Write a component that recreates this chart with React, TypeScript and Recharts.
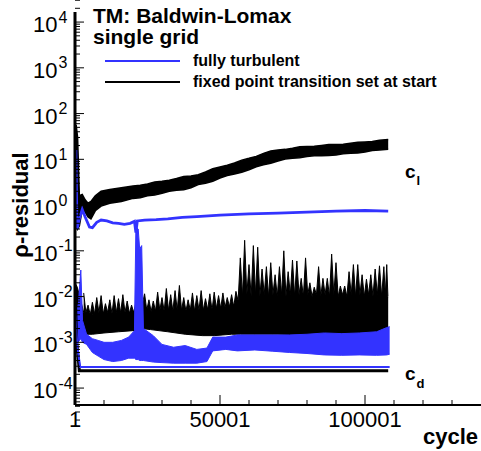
import React from 'react';
import { ComposedChart, Line, Area, XAxis, YAxis } from 'recharts';

const FONT = '"Liberation Sans", Arial, Helvetica, sans-serif';
const BLUE = '#3333ff';
const BLACK = '#000000';

// ---- axis ticks ----
const xMajorTicks = [1, 50001, 100001];
const xTicks = [1, 10001, 20001, 30001, 40001, 50001, 60001, 70001, 80001, 90001, 100001, 110001, 120001, 130001];
const yMajorTicks = [1e-4, 1e-3, 1e-2, 1e-1, 1, 10, 100, 1000, 10000];
const yMinorMultipliers = [2, 3, 4, 5, 6, 7, 8, 9];
const yTicks: number[] = [];
[1e-5, ...yMajorTicks].forEach((m) => {
  if (m >= 1e-4) yTicks.push(m);
  yMinorMultipliers.forEach((k) => yTicks.push(k * m));
});
const yDomain = [Math.pow(10, -4.37), Math.pow(10, 4.22)];

// ---- fixed point transition: c_l band ----
const blackClCycles = [1, 400, 900, 1500, 2500, 3500, 4500, 5500, 7000, 9000, 12000, 16000, 20000, 22500, 25000, 27500, 30000, 32500, 35000, 37500, 40000, 42500, 45000, 47500, 50000, 52500, 55000, 57500, 60000, 62500, 65000, 67500, 70000, 72500, 75000, 77500, 80000, 82500, 85000, 87500, 90000, 92500, 95000, 97500, 100000, 102500, 105000, 108000];
const blackClLow = [0.5, 0.5, 0.3, 0.35, 0.8, 0.7, 0.55, 0.5, 0.75, 0.95, 1.1, 1.2, 1.4, 1.45, 1.6, 1.65, 1.8, 2.0, 2.1, 2.15, 2.4, 2.8, 3.0, 3.3, 3.9, 4.4, 4.8, 5.2, 5.9, 6.9, 7.6, 8.2, 9.2, 10.2, 10.5, 10.8, 11.5, 12, 12, 12.1, 12.5, 13.2, 13.5, 13.8, 14.5, 15.5, 16, 16.5];
const blackClHigh = [1, 56, 30, 1.6, 1.7, 1.3, 1.1, 1.2, 1.6, 2.0, 2.2, 2.4, 2.6, 2.7, 2.9, 3.2, 3.3, 3.5, 3.8, 4.2, 4.3, 4.6, 5.3, 6.2, 6.8, 7.4, 8.3, 9.6, 10.5, 11.6, 13.5, 15.2, 16, 16.5, 17.5, 18.8, 19, 19.2, 20, 21, 21, 21.3, 22.5, 23.6, 24, 24.5, 26, 27];

// ---- fully turbulent: c_l line ----
const blueClCycles = [1, 300, 700, 1500, 2500, 3500, 5000, 6000, 7500, 9000, 11000, 13000, 15000, 17000, 19000, 20500, 21000, 21500, 24000, 28000, 32000, 37000, 42000, 50000, 60000, 70000, 80000, 90000, 100000, 108000];
const blueClValues = [0.4, 16, 0.3, 0.5, 0.8, 0.55, 0.33, 0.32, 0.42, 0.47, 0.45, 0.41, 0.40, 0.38, 0.40, 0.44, 0.25, 0.45, 0.47, 0.48, 0.50, 0.54, 0.56, 0.60, 0.64, 0.67, 0.70, 0.74, 0.76, 0.74];

// ---- fully turbulent: residual band ----
const blueBandCycles = [1, 1000, 2000, 2600, 4000, 6000, 8000, 10000, 13000, 16000, 18500, 20500, 21000, 21800, 22300, 23000, 23600, 27000, 30000, 34000, 38000, 42000, 45500, 47500, 52000, 56000, 62000, 68000, 74000, 80000, 86000, 92000, 98000, 104000, 107500, 108500];
const blueBandLow = [3e-3, 1e-3, 1.2e-3, 1.0e-3, 9e-4, 6e-4, 5e-4, 4.2e-4, 3.8e-4, 4.0e-4, 4.5e-4, 4.5e-4, 4.2e-4, 4.2e-4, 4.0e-4, 4.0e-4, 4.0e-4, 3.7e-4, 3.6e-4, 3.5e-4, 3.5e-4, 3.5e-4, 3.8e-4, 6.5e-4, 7.0e-4, 6.5e-4, 6.8e-4, 6.4e-4, 6.0e-4, 5.7e-4, 5.3e-4, 5.2e-4, 5.3e-4, 5.2e-4, 5.3e-4, 5.5e-4];
const blueBandHigh = [1e-2, 5e-3, 3.8e-2, 3e-3, 1.5e-3, 1.2e-3, 1.1e-3, 1.0e-3, 1.0e-3, 1.1e-3, 1.3e-3, 1.8e-3, 0.33, 0.3, 0.11, 0.13, 2.0e-3, 1.4e-3, 9e-4, 7.8e-4, 8.5e-4, 7e-4, 7.5e-4, 1.3e-3, 1.3e-3, 1.45e-3, 1.45e-3, 1.45e-3, 1.45e-3, 1.5e-3, 1.6e-3, 1.55e-3, 1.6e-3, 1.7e-3, 2.1e-3, 2.2e-3];

// ---- fixed point transition: residual base band ----
const blackBaseCycles = [1, 800, 2000, 3000, 6000, 10000, 15000, 20000, 23000, 26000, 32000, 38000, 44000, 48000, 54000, 57000, 70000, 90000, 108000];
const blackBaseLow = [5e-3, 2e-3, 1.6e-3, 1.5e-3, 1.5e-3, 1.6e-3, 1.7e-3, 1.8e-3, 2.0e-3, 1.9e-3, 1.7e-3, 1.5e-3, 1.4e-3, 1.4e-3, 1.5e-3, 1.5e-3, 1.5e-3, 1.4e-3, 1.4e-3];
const blackBaseHigh = [2e-2, 1.6e-2, 8e-3, 4.5e-3, 4.0e-3, 4.2e-3, 4.2e-3, 4.5e-3, 7.5e-3, 4.5e-3, 5e-3, 5e-3, 5e-3, 5.5e-3, 6e-3, 9e-3, 9.5e-3, 9.5e-3, 9.5e-3];

// ---- fixed point transition: residual spikes (peak / trough pairs) ----
const blackSpikeFloor = 4e-3;
const blackSpikeCycles = [3000, 3750, 4500, 5250, 6000, 6750, 7500, 8250, 9000, 9750, 10500, 11250, 12000, 12750, 13500, 14250, 15000, 15750, 16500, 17250, 18000, 18750, 19500, 20250, 21000, 21750, 22500, 23250, 24000, 24750, 25500, 26250, 27000, 27750, 28500, 29250, 30000, 30750, 31500, 32250, 33000, 33750, 34500, 35250, 36000, 36750, 37500, 38250, 39000, 39750, 40500, 41250, 42000, 42750, 43500, 44250, 45000, 45750, 46500, 47250, 48000, 48750, 49500, 50250, 51000, 51750, 52500, 53250, 54000, 54750, 55500, 56250, 57000, 57750, 58500, 59250, 60000, 60750, 61500, 62250, 63000, 63750, 64500, 65250, 66000, 66750, 67500, 68250, 69000, 69750, 70500, 71250, 72000, 72750, 73500, 74250, 75000, 75750, 76500, 77250, 78000, 78750, 79500, 80250, 81000, 81750, 82500, 83250, 84000, 84750, 85500, 86250, 87000, 87750, 88500, 89250, 90000, 90750, 91500, 92250, 93000, 93750, 94500, 95250, 96000, 96750, 97500, 98250, 99000, 99750, 100500, 101250, 102000, 102750, 103500, 104250, 105000, 105750, 106500, 107000, 107500, 107900];
const blackSpikeValues = [
  0.012, 0.0045, 0.0065, 0.004, 0.0075, 0.0042, 0.0095, 0.0045, 0.0105, 0.0042,
  0.007, 0.0045, 0.0085, 0.0042, 0.0105, 0.0045, 0.009, 0.0044, 0.011, 0.0045,
  0.008, 0.0043, 0.0065, 0.0045, 0.0075, 0.005, 0.011, 0.007, 0.0115, 0.005,
  0.0085, 0.0047, 0.008, 0.0048, 0.0125, 0.005, 0.0095, 0.0048, 0.015, 0.005,
  0.011, 0.0048, 0.0135, 0.005, 0.0175, 0.005, 0.0095, 0.0048, 0.0085, 0.005,
  0.012, 0.0048, 0.0105, 0.005, 0.0135, 0.005, 0.009, 0.0052, 0.0115, 0.005,
  0.0125, 0.0055, 0.0105, 0.0055, 0.012, 0.0058, 0.0095, 0.006, 0.011, 0.006,
  0.013, 0.008, 0.07, 0.01, 0.17, 0.011, 0.05, 0.01, 0.13, 0.011,
  0.12, 0.01, 0.04, 0.011, 0.045, 0.01, 0.055, 0.011, 0.03, 0.01,
  0.045, 0.011, 0.1, 0.01, 0.035, 0.011, 0.063, 0.01, 0.06, 0.011,
  0.025, 0.01, 0.07, 0.011, 0.02, 0.01, 0.016, 0.011, 0.045, 0.01,
  0.025, 0.011, 0.025, 0.01, 0.085, 0.011, 0.055, 0.01, 0.017, 0.011,
  0.017, 0.01, 0.035, 0.011, 0.05, 0.01, 0.05, 0.011, 0.03, 0.01,
  0.024, 0.011, 0.03, 0.01, 0.04, 0.011, 0.047, 0.01, 0.045, 0.011,
  0.05, 0.01,
];

// ---- flat c_d lines ----
const blackFlatCycles = [1, 600, 1500, 20000, 50000, 80000, 108000];
const blackFlatValues = [1.6e-2, 1e-3, 2.4e-4, 2.4e-4, 2.4e-4, 2.4e-4, 2.4e-4];
const blueFlatCycles = [1, 800, 1800, 30000, 70000, 108500];
const blueFlatValues = [5e-3, 8e-4, 2.9e-4, 2.9e-4, 2.9e-4, 2.9e-4];

const rangeData = (c: number[], lo: number[], hi: number[]) => c.map((cycle, i) => ({ cycle, range: [lo[i], hi[i]] }));
const lineData = (c: number[], v: number[]) => c.map((cycle, i) => ({ cycle, value: v[i] }));

const blackClData = rangeData(blackClCycles, blackClLow, blackClHigh);
const blueClData = lineData(blueClCycles, blueClValues);
const blueBandData = rangeData(blueBandCycles, blueBandLow, blueBandHigh);
const blackBaseData = rangeData(blackBaseCycles, blackBaseLow, blackBaseHigh);
const blackSpikeData = blackSpikeCycles.map((cycle, i) => ({ cycle, range: [blackSpikeFloor, blackSpikeValues[i]] }));
const blackFlatData = lineData(blackFlatCycles, blackFlatValues);
const blueFlatData = lineData(blueFlatCycles, blueFlatValues);

const YTick = (props: any) => {
  const { x, y, payload } = props;
  const v = payload.value as number;
  const lg = Math.log10(v);
  const exp = Math.round(lg);
  const isMajor = Math.abs(lg - exp) < 1e-6;
  return (
    <g>
      <line x1={x} x2={x + (isMajor ? 9 : 5)} y1={y} y2={y} stroke={BLACK} strokeWidth={1} />
      {isMajor && (
        <text x={x - 42} y={y + 10} fontSize={22} fontFamily={FONT} fill={BLACK}>
          10<tspan dx={1} dy={-9.5} fontSize={16}>{exp}</tspan>
        </text>
      )}
    </g>
  );
};

const XTick = (props: any) => {
  const { x, y, payload } = props;
  const v = payload.value as number;
  const isMajor = xMajorTicks.includes(v);
  return (
    <g>
      <line x1={x} x2={x} y1={y} y2={y - (isMajor ? 10 : 5)} stroke={BLACK} strokeWidth={1} />
      {isMajor && (
        <text x={x} y={y + 22} textAnchor="middle" fontSize={22} fontFamily={FONT} fill={BLACK}>
          {v}
        </text>
      )}
    </g>
  );
};

export default function App() {
  return (
    <div style={{ position: 'absolute', left: 0, top: 0, width: 481, height: 451, background: '#fff' }}>
      <ComposedChart width={481} height={451} margin={{ top: 12, right: 0, bottom: 0, left: 0 }}>
        <XAxis
          type="number"
          dataKey="cycle"
          domain={[1, 140001]}
          allowDataOverflow
          ticks={xTicks}
          interval={0}
          height={46}
          tickSize={0}
          tickMargin={0}
          tickLine={false}
          tick={<XTick />}
          axisLine={{ stroke: BLACK, strokeWidth: 2 }}
        />
        <YAxis
          type="number"
          scale="log"
          domain={yDomain}
          allowDataOverflow
          ticks={yTicks}
          interval={0}
          width={75}
          tickSize={0}
          tickMargin={0}
          tickLine={false}
          tick={<YTick />}
          axisLine={{ stroke: BLACK, strokeWidth: 3 }}
        />
        <Area data={blackClData} dataKey="range" type="linear" stroke={BLACK} strokeWidth={1.5} fill={BLACK} fillOpacity={1} isAnimationActive={false} dot={false} activeDot={false} />
        <Line data={blueClData} dataKey="value" type="linear" stroke={BLUE} strokeWidth={2.8} dot={false} activeDot={false} isAnimationActive={false} />
        <Area data={blackBaseData} dataKey="range" type="linear" stroke={BLACK} strokeWidth={1} fill={BLACK} fillOpacity={1} isAnimationActive={false} dot={false} activeDot={false} />
        <Area data={blackSpikeData} dataKey="range" type="linear" stroke={BLACK} strokeWidth={1} fill={BLACK} fillOpacity={1} dot={false} activeDot={false} isAnimationActive={false} />
        <Area data={blueBandData} dataKey="range" type="linear" stroke={BLUE} strokeWidth={1} fill={BLUE} fillOpacity={1} isAnimationActive={false} dot={false} activeDot={false} />
        <Line data={blackFlatData} dataKey="value" type="linear" stroke={BLACK} strokeWidth={3} dot={false} activeDot={false} isAnimationActive={false} />
        <Line data={blueFlatData} dataKey="value" type="linear" stroke={BLUE} strokeWidth={2} dot={false} activeDot={false} isAnimationActive={false} />
      </ComposedChart>
      <svg width={481} height={451} style={{ position: 'absolute', left: 0, top: 0, pointerEvents: 'none' }}>
        <g fontFamily={FONT} fill={BLACK}>
          <text x={93} y={23} fontSize={21} fontWeight="bold">TM: Baldwin-Lomax</text>
          <text x={93} y={44} fontSize={21} fontWeight="bold">single grid</text>
          <line x1={105} x2={180} y1={61} y2={61} stroke={BLUE} strokeWidth={2} />
          <text x={193} y={66} fontSize={16} fontWeight="bold">fully turbulent</text>
          <line x1={105} x2={180} y1={82} y2={82} stroke={BLACK} strokeWidth={2} />
          <text x={193} y={87} fontSize={16} fontWeight="bold">fixed point transition set at start</text>
          <text x={405} y={178} fontSize={19} fontWeight="bold">c<tspan dx={1} dy={7} fontSize={13}>l</tspan></text>
          <text x={405} y={380} fontSize={19} fontWeight="bold">c<tspan dx={1} dy={8} fontSize={13}>d</tspan></text>
          <text x={423} y={444} fontSize={22} fontWeight="bold">cycle</text>
          <text x={28} y={205} fontSize={22} fontWeight="bold" textAnchor="middle" transform="rotate(-90 28 205)">ρ-residual</text>
        </g>
      </svg>
    </div>
  );
}
